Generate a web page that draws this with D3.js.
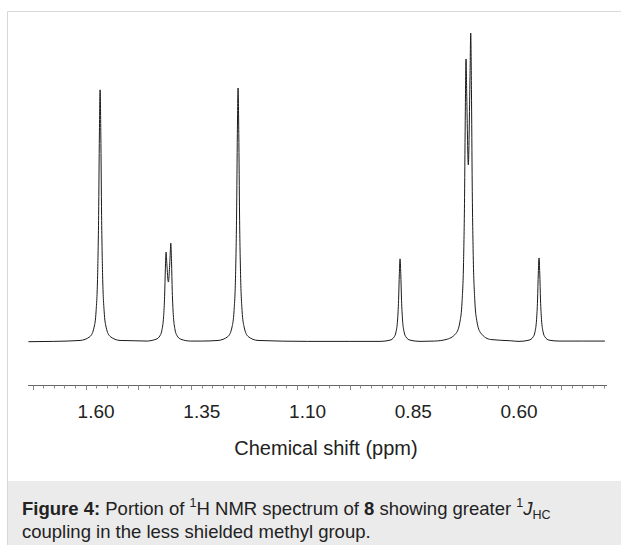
<!DOCTYPE html>
<html>
<head>
<meta charset="utf-8">
<script src="https://cdn.jsdelivr.net/npm/d3@7"></script>
<style>
  body { margin: 0; background: #fff; }
  text { font-family: "Liberation Sans", Arial, Helvetica, sans-serif; }
</style>
</head>
<body>
<div id="chart"></div>
<script>
// spectrum trace (ppm, relative intensity)
const shiftPpm = [
  1.760, 1.700, 1.6378, 1.6141, 1.6047, 1.6000, 1.5964, 1.5940, 1.5922, 1.5905,
  1.5888, 1.5870, 1.5846, 1.5810, 1.5763, 1.5668, 1.5432, 1.510,
  1.4818, 1.4582, 1.4487, 1.4440, 1.4404, 1.4380, 1.4362, 1.4345, 1.4328, 1.4291,
  1.4251, 1.4234, 1.4217, 1.4199, 1.4175, 1.4139, 1.4092, 1.3997, 1.3761, 1.350,
  1.3116, 1.2880, 1.2785, 1.2738, 1.2702, 1.2678, 1.2660, 1.2643,
  1.2626, 1.2608, 1.2584, 1.2548, 1.2501, 1.2406, 1.2170, 1.100, 1.000,
  0.9286, 0.9050, 0.8955, 0.8908, 0.8872, 0.8848, 0.8830, 0.8813,
  0.8796, 0.8778, 0.8754, 0.8718, 0.8671, 0.8576, 0.8340, 0.800,
  0.7726, 0.7490, 0.7395, 0.7348, 0.7312, 0.7288, 0.7270, 0.7253, 0.7236, 0.7199,
  0.7159, 0.7142, 0.7125, 0.7107, 0.7083, 0.7047, 0.7000, 0.6905, 0.6669, 0.620,
  0.6000, 0.5764, 0.5669, 0.5622, 0.5586, 0.5562, 0.5544, 0.5527,
  0.5510, 0.5492, 0.5468, 0.5432, 0.5385, 0.5290, 0.5054, 0.450, 0.397
];
const intensity = [
  0.1, 0.2, 0.5, 1.8, 4.8, 10, 21.6, 41, 67, 81.6,
  67, 41, 21.6, 10, 4.8, 1.8, 0.5, 0.4,
  0.3, 0.9, 2.1, 4.1, 8.2, 14.8, 23.7, 29.1, 25.5, 19.4,
  27.4, 32.0, 26.1, 16.3, 8.9, 4.4, 2.2, 0.9, 0.3, 0.3,
  0.5, 1.8, 4.9, 10.1, 21.8, 41.1, 67.4, 82.2,
  67.4, 41.1, 21.8, 10.1, 4.9, 1.8, 0.5, 0.2, 0.2,
  0.2, 0.6, 1.6, 3.3, 7.1, 13.5, 22.1, 26.9,
  22.1, 13.5, 7.1, 3.3, 1.6, 0.6, 0.2, 0.3,
  0.8, 2.8, 6.7, 12.9, 25.7, 46.7, 74.7, 91.6, 79.5, 57.3,
  85.9, 100, 81.6, 50.8, 28.0, 13.8, 7.0, 2.9, 0.8, 0.4,
  0.2, 0.6, 1.6, 3.3, 7.2, 13.6, 22.3, 27.2,
  22.3, 13.6, 7.2, 3.3, 1.6, 0.6, 0.3, 0.3, 0.3
];
const tickLabels = [1.60, 1.35, 1.10, 0.85, 0.60];
const axisDomain = [1.761, 0.392];
const axisTitle = "Chemical shift (ppm)";

const width = 621, height = 545;

const svg = d3.select("#chart")
  .append("svg")
  .attr("width", width)
  .attr("height", height);

// figure frame + caption box
svg.append("rect")
  .attr("x", 8).attr("y", 481)
  .attr("width", width - 8).attr("height", height - 481)
  .attr("fill", "#ebebeb");
svg.append("path")
  .attr("d", `M7.5,${height}V11.5H${width}`)
  .attr("fill", "none")
  .attr("stroke", "#d8d8d8");

const x = d3.scaleLinear().domain(axisDomain).range([28, 607]);
const y = d3.scaleLinear().domain([0, 100]).range([342, 33]);

const points = shiftPpm.map((d, i) => [d, intensity[i]]);

const line = d3.line()
  .x(d => x(d[0]))
  .y(d => y(d[1]))
  .curve(d3.curveMonotoneX);

svg.append("path")
  .datum(points)
  .attr("d", line)
  .attr("fill", "none")
  .attr("stroke", "#1a1a1a")
  .attr("stroke-width", 1);

// axis: minor ticks every 0.025 ppm, labels every 0.25
const minorTicks = d3.range(0, 56).map(i => +(1.75 - i * 0.025).toFixed(3)).filter(t => t >= axisDomain[1]);
const axisY = 385.5;
const axis = svg.append("g");

axis.append("line")
  .attr("x1", 28).attr("x2", 607)
  .attr("y1", axisY).attr("y2", axisY)
  .attr("stroke", "#666");

axis.selectAll(".tick")
  .data(minorTicks)
  .enter()
  .append("line")
  .attr("class", "tick")
  .attr("x1", d => Math.round(x(d)) + 0.5)
  .attr("x2", d => Math.round(x(d)) + 0.5)
  .attr("y1", axisY)
  .attr("y2", (d, i) => axisY + (Math.round(d * 1000) % 125 === 0 ? 4.5 : 3))
  .attr("stroke", "#888");

axis.selectAll(".tlabel")
  .data(tickLabels)
  .enter()
  .append("text")
  .attr("class", "tlabel")
  .attr("x", d => x(d))
  .attr("y", 418)
  .attr("text-anchor", "middle")
  .attr("font-size", 19)
  .attr("fill", "#222")
  .text(d => d.toFixed(2));

svg.append("text")
  .attr("x", 326)
  .attr("y", 455)
  .attr("text-anchor", "middle")
  .attr("font-size", 20)
  .attr("fill", "#222")
  .text(axisTitle);

// caption
const cap1 = svg.append("text")
  .attr("x", 22).attr("y", 515)
  .attr("font-size", 18.5)
  .attr("fill", "#222");
cap1.append("tspan").attr("font-weight", "bold").text("Figure 4:");
cap1.append("tspan").text(" Portion of ");
cap1.append("tspan").attr("font-size", 12.5).attr("dy", -8).text("1");
cap1.append("tspan").attr("dy", 8).text("H NMR spectrum of ");
cap1.append("tspan").attr("font-weight", "bold").text("8");
cap1.append("tspan").text(" showing greater ");
cap1.append("tspan").attr("font-size", 12.5).attr("dy", -8).text("1");
cap1.append("tspan").attr("dy", 8).attr("font-style", "italic").text("J");
cap1.append("tspan").attr("font-size", 12.5).attr("dy", 4).text("HC");

svg.append("text")
  .attr("x", 22).attr("y", 538)
  .attr("font-size", 18.5)
  .attr("fill", "#222")
  .text("coupling in the less shielded methyl group.");
</script>
</body>
</html>
